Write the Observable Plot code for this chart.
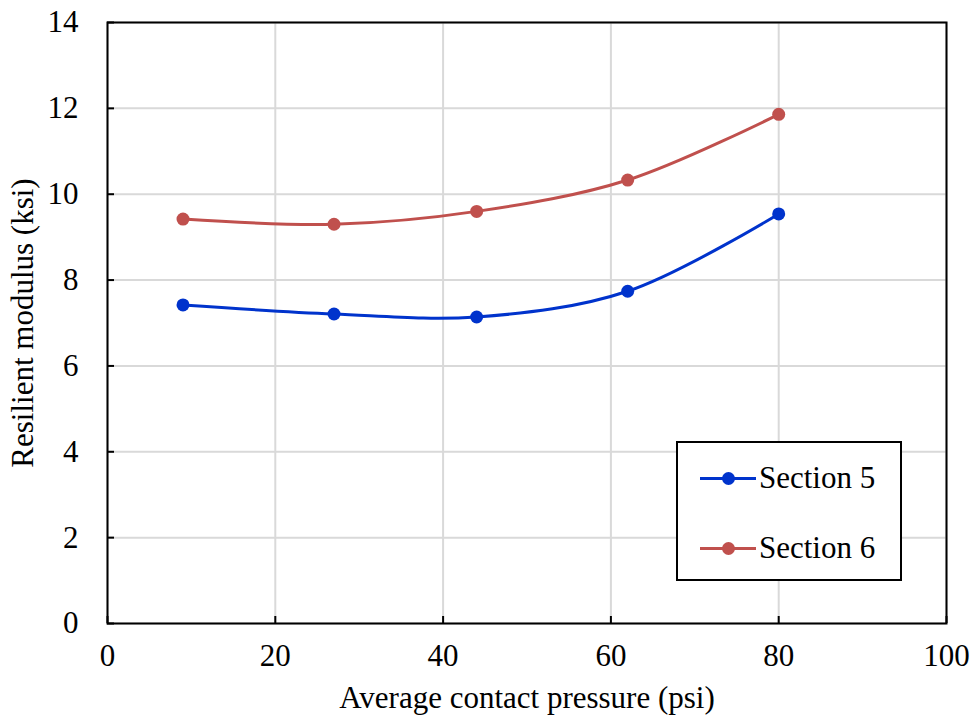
<!DOCTYPE html>
<html>
<head>
<meta charset="utf-8">
<script src="https://cdn.jsdelivr.net/npm/d3@7"></script>
<script src="https://cdn.jsdelivr.net/npm/@observablehq/plot@0.6"></script>
<style>
  html, body { margin: 0; padding: 0; background: #fff; }
  #wrap { position: relative; width: 976px; height: 721px; font-family: "Liberation Serif", "Times New Roman", serif; }
  #legend { position: absolute; left: 676px; top: 441px; width: 222px; height: 136px; border: 2px solid #000; background: #fff; box-sizing: content-box; }
  .row { position: absolute; left: 22px; height: 32px; display: flex; align-items: center; font-size: 31px; color: #000; }
  .sw { position: relative; width: 56px; height: 32px; margin-right: 3px; }
  .sw .ln { position: absolute; left: 0; right: 0; top: 15px; height: 3px; }
  .sw .dt { position: absolute; left: 22px; top: 10px; width: 13px; height: 13px; border-radius: 50%; }
</style>
</head>
<body>
<div id="wrap"></div>
<script>
const pressure = [9, 27, 44, 62, 80];
const section5 = [7.42, 7.21, 7.14, 7.74, 9.54];
const section6 = [9.42, 9.30, 9.60, 10.33, 11.86];
const seriesNames = ["Section 5", "Section 6"];
const seriesColors = ["#0033CC", "#C0504D"];
const xTicks = [0, 20, 40, 60, 80, 100];
const yTicks = [0, 2, 4, 6, 8, 10, 12, 14];

const fam = '"Liberation Serif", "Times New Roman", serif';

const rows = [];
[section5, section6].forEach((vals, i) => {
  vals.forEach((v, j) => rows.push({series: seriesNames[i], x: pressure[j], y: v}));
});

const chart = Plot.plot({
  width: 976,
  height: 721,
  marginLeft: 107,
  marginRight: 30,
  marginTop: 22,
  marginBottom: 98,
  style: { fontFamily: fam, fontSize: "31px", color: "#000", background: "#fff" },
  x: { domain: [0, 100] },
  y: { domain: [0, 14] },
  color: { domain: seriesNames, range: seriesColors },
  marks: [
    Plot.gridX(xTicks, { stroke: "#d9d9d9", strokeOpacity: 1, strokeWidth: 2 }),
    Plot.gridY(yTicks, { stroke: "#d9d9d9", strokeOpacity: 1, strokeWidth: 2 }),
    Plot.axisX(xTicks, { tickSize: -7, tickPadding: 27, strokeWidth: 2, label: "Average contact pressure (psi)", labelAnchor: "center", labelArrow: "none", labelOffset: 84, fontSize: 31 }),
    Plot.axisY(yTicks, { tickSize: -7, tickPadding: 36, strokeWidth: 2, label: "Resilient modulus (ksi)", labelAnchor: "center", labelArrow: "none", labelOffset: 97, fontSize: 31 }),
    Plot.frame({ stroke: "#000", strokeWidth: 2 }),
    Plot.line(rows, { x: "x", y: "y", z: "series", stroke: "series", strokeWidth: 3, curve: "catmull-rom" }),
    Plot.dot(rows, { x: "x", y: "y", fill: "series", r: 6.5 })
  ]
});

const wrap = document.getElementById("wrap");
wrap.appendChild(chart);

const legend = document.createElement("div");
legend.id = "legend";
seriesNames.forEach((name, i) => {
  const row = document.createElement("div");
  row.className = "row";
  row.style.top = (i === 0 ? 19 : 89) + "px";
  row.innerHTML = `<div class="sw"><div class="ln" style="background:${seriesColors[i]}"></div><div class="dt" style="background:${seriesColors[i]}"></div></div><span>${name}</span>`;
  legend.appendChild(row);
});
wrap.appendChild(legend);
</script>
</body>
</html>
